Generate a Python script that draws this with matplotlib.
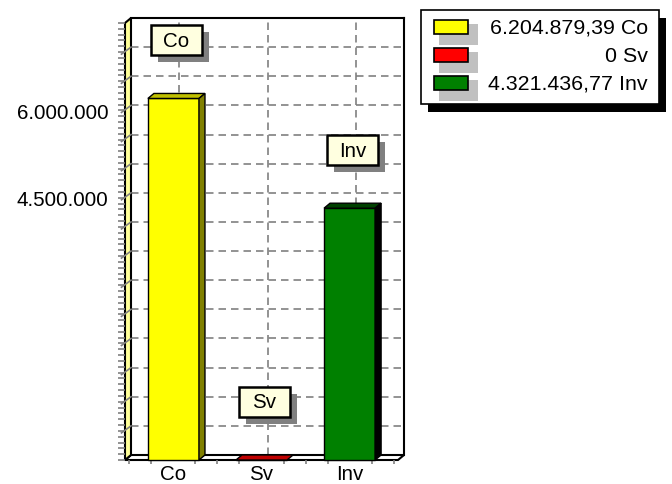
import matplotlib
matplotlib.use("Agg")
import matplotlib.pyplot as plt
import matplotlib.transforms as mtransforms
from matplotlib.patches import Rectangle, Polygon
from matplotlib.ticker import MultipleLocator, FixedLocator
import numpy as np

# ---------------------------------------------------------------------------
# Data
# ---------------------------------------------------------------------------
categories = ["Co", "Sv", "Inv"]
values = [6204879.39, 0.0, 4321436.77]
bar_colors = ["#FFFF00", "#FF0000", "#008000"]
top_colors = ["#C0C000", "#C00000", "#004000"]
side_colors = ["#808000", "#800000", "#000000"]
ytick_values = [4500000, 6000000]
ytick_labels = ["4.500.000", "6.000.000"]


def euro(v: float) -> str:
    """6204879.39 -> '6.204.879,39'."""
    if v == 0:
        return "0"
    s = f"{v:,.2f}"
    return s.replace(",", "_").replace(".", ",").replace("_", ".")


# ---------------------------------------------------------------------------
# Layout (pixels, origin top-left)
# ---------------------------------------------------------------------------
W, H = 672, 485
DX, DY = 6, 5                       # 3d depth offset
FRONT = (125, 24, 398, 461)         # left, top, right, bottom
BACK = (FRONT[0] + DX, FRONT[1] - DY, FRONT[2] + DX, FRONT[3] - DY)
XLIM = (-0.55, 2.55)
YLIM = (0, 7.5e6)
FS = 14.8
FS_LEG = 15.4

plt.rcParams["font.family"] = ["Liberation Sans", "DejaVu Sans"]
fig = plt.figure(figsize=(W / 100, H / 100), dpi=100)
pix = mtransforms.Affine2D().scale(1 / W, -1 / H).translate(0, 1) + fig.transFigure
ident = mtransforms.IdentityTransform()


def frac(left, top, right, bottom):
    return [left / W, 1 - bottom / H, (right - left) / W, (bottom - top) / H]


# back wall with the grid
ax_back = fig.add_axes(frac(*BACK))
ax_back.set_xlim(*XLIM)
ax_back.set_ylim(*YLIM)
ax_back.set_xticks(range(len(categories)))
ax_back.set_yticks(np.arange(0, YLIM[1], 5e5))
ax_back.tick_params(length=0, labelleft=False, labelbottom=False)
ax_back.grid(True, color="#808080", linestyle=(0, (4.5, 3)), linewidth=1.2)
for side in ("left", "bottom"):
    ax_back.spines[side].set_visible(False)
for side in ("top", "right"):
    ax_back.spines[side].set_linewidth(1.5)

# front plane: bars, ticks, labels
ax = fig.add_axes(frac(*FRONT))
ax.set_xlim(*XLIM)
ax.set_ylim(*YLIM)
ax.patch.set_visible(False)
for sp in ax.spines.values():
    sp.set_visible(False)

ddx = DX * (XLIM[1] - XLIM[0]) / (FRONT[2] - FRONT[0])
ddy = DY * (YLIM[1] - YLIM[0]) / (FRONT[3] - FRONT[1])

# floor and left wall
xl, xr = XLIM
ax.add_patch(Polygon([(xl, 0), (xr, 0), (xr + ddx, ddy), (xl + ddx, ddy)],
                     closed=True, fc="white", ec="black", lw=1.5,
                     clip_on=False, zorder=1))
ax.add_patch(Polygon([(xl, 0), (xl + ddx, ddy), (xl + ddx, YLIM[1] + ddy),
                      (xl, YLIM[1])],
                     closed=True, fc="#FFFF99", ec="black", lw=1.5,
                     clip_on=False, zorder=1))
for yv in np.arange(5e5, YLIM[1], 5e5):
    ax.plot([xl - 0.04, xl + ddx], [yv - ddy * 0.4, yv + ddy], color="#808080",
            lw=1.2, clip_on=False, zorder=1.5)

# bars
x = np.arange(len(categories))
bw = 0.58
ax.bar(x, values, width=bw, color=bar_colors, edgecolor="black",
       linewidth=1, zorder=3, clip_on=False)
for xi, v, tc, sc in zip(x, values, top_colors, side_colors):
    x0, x1 = xi - bw / 2, xi + bw / 2
    ax.add_patch(Polygon([(x0, v), (x1, v), (x1 + ddx, v + ddy), (x0 + ddx, v + ddy)],
                         closed=True, fc=tc, ec="black", lw=1,
                         clip_on=False, zorder=3))
    if v > 0:
        ax.add_patch(Polygon([(x1, 0), (x1, v), (x1 + ddx, v + ddy), (x1 + ddx, ddy)],
                             closed=True, fc=sc, ec="black", lw=1,
                             clip_on=False, zorder=3))

# ticks
ax.yaxis.set_major_locator(MultipleLocator(5e5))
ax.yaxis.set_minor_locator(MultipleLocator(1e5))
ax.set_yticklabels([
    ytick_labels[ytick_values.index(t)] if t in ytick_values else ""
    for t in ax.get_yticks()
])
ax.tick_params(axis="y", which="both", length=5, width=1.2, color="#808080",
               labelsize=FS, pad=7)
ax.set_xticks(x)
ax.set_xticklabels(categories)
ax.xaxis.set_minor_locator(FixedLocator(
    [t for t in np.arange(-0.5, 2.51, 0.25) if abs(t - round(t)) > 1e-6]))
ax.tick_params(axis="x", which="major", length=0, labelsize=FS, pad=3)
ax.tick_params(axis="x", which="minor", length=3, width=1.2, color="#808080")
ax.set_ylim(*YLIM)

# value label boxes above each bar
BOX_W, BOX_H = 51, 30
for xi, v, name in zip(x, values, categories):
    ax_px, ay_px = ax.transData.transform((xi, v))
    cx, cy = ax_px + 3, ay_px + 58
    fig.add_artist(Rectangle((cx - BOX_W / 2 + 7, cy - BOX_H / 2 - 7), BOX_W, BOX_H,
                             fc="#808080", ec="none", transform=ident, zorder=5))
    fig.add_artist(Rectangle((cx - BOX_W / 2, cy - BOX_H / 2), BOX_W, BOX_H,
                             fc="#FFFFE0", ec="black", lw=1.8,
                             transform=ident, zorder=6))
    fig.text(cx, cy, name, transform=ident, ha="center", va="center",
             fontsize=FS, zorder=7)

# legend
LEG = (421, 11, 659, 105)
fig.add_artist(Rectangle((LEG[0] + 7, LEG[1] + 8), LEG[2] - LEG[0], LEG[3] - LEG[1],
                         fc="black", ec="none", transform=pix, zorder=5))
fig.add_artist(Rectangle((LEG[0], LEG[1]), LEG[2] - LEG[0], LEG[3] - LEG[1],
                         fc="white", ec="black", lw=1.2, transform=pix, zorder=6))
for k, (name, v, c) in enumerate(zip(categories, values, bar_colors)):
    ry = 28 + k * 28
    fig.add_artist(Rectangle((439, ry - 3), 39, 21, fc="#C0C0C0", ec="none",
                             transform=pix, zorder=7))
    fig.add_artist(Rectangle((434, ry - 7), 34, 14, fc=c, ec="black", lw=1.2,
                             transform=pix, zorder=8))
    fig.text(648, ry, f"{euro(v)} {name}", transform=pix, ha="right",
             va="center", fontsize=FS_LEG, zorder=8)

fig.savefig("out.png", dpi=100)
